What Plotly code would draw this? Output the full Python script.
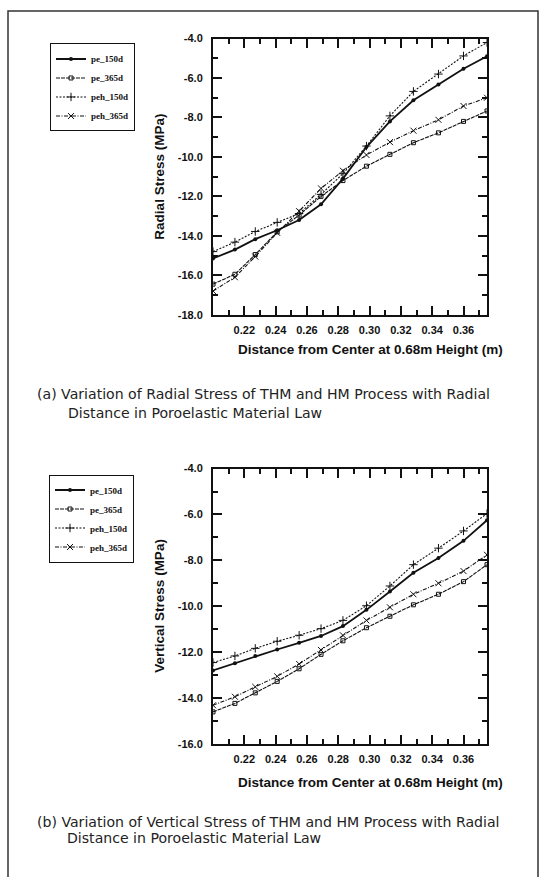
import plotly.graph_objects as go

# ---------------- data ----------------
x_dist = [0.200, 0.214, 0.227, 0.241, 0.255, 0.269, 0.283, 0.298, 0.313, 0.328, 0.344, 0.360, 0.375]

# (a) Radial stress (MPa)
rad_pe_150d = [-15.15, -14.70, -14.17, -13.72, -13.20, -12.40, -11.10, -9.50, -8.20, -7.13, -6.33, -5.53, -4.90]
rad_pe_365d = [-16.45, -15.95, -14.95, -13.80, -12.95, -12.00, -11.20, -10.47, -9.87, -9.28, -8.78, -8.20, -7.67]
rad_peh_150d = [-14.80, -14.32, -13.78, -13.32, -12.87, -11.90, -10.85, -9.45, -7.92, -6.68, -5.80, -4.88, -4.20]
rad_peh_365d = [-16.80, -16.10, -15.05, -13.85, -12.75, -11.60, -10.70, -9.90, -9.25, -8.67, -8.12, -7.42, -7.00]

# (b) Vertical stress (MPa)
ver_pe_150d = [-12.80, -12.49, -12.17, -11.89, -11.60, -11.30, -10.87, -10.16, -9.36, -8.54, -7.90, -7.15, -6.25]
ver_pe_365d = [-14.61, -14.24, -13.78, -13.28, -12.73, -12.10, -11.51, -10.94, -10.44, -9.94, -9.48, -8.93, -8.19]
ver_peh_150d = [-12.46, -12.17, -11.84, -11.53, -11.27, -10.98, -10.62, -9.98, -9.12, -8.19, -7.47, -6.72, -5.96]
ver_peh_365d = [-14.32, -13.95, -13.52, -13.06, -12.52, -11.91, -11.27, -10.62, -10.05, -9.48, -9.00, -8.47, -7.76]

series_names = ["pe_150d", "pe_365d", "peh_150d", "peh_365d"]

x_ticks = [0.22, 0.24, 0.26, 0.28, 0.30, 0.32, 0.34, 0.36]
x_ticktext = ["0.22", "0.24", "0.26", "0.28", "0.30", "0.32", "0.34", "0.36"]
x_minor = [0.21, 0.23, 0.25, 0.27, 0.29, 0.31, 0.33, 0.35, 0.37]

y_ticks_a = [-18, -16, -14, -12, -10, -8, -6, -4]
y_ticktext_a = ["-18.0", "-16.0", "-14.0", "-12.0", "-10.0", "-8.0", "-6.0", "-4.0"]
y_minor_a = [-17, -15, -13, -11, -9, -7, -5]

y_ticks_b = [-16, -14, -12, -10, -8, -6, -4]
y_ticktext_b = ["-16.0", "-14.0", "-12.0", "-10.0", "-8.0", "-6.0", "-4.0"]
y_minor_b = [-15, -13, -11, -9, -7, -5]

caption_a = ("(a) Variation of Radial Stress of THM and HM Process with Radial",
             "Distance in Poroelastic Material Law")
caption_b = ("(b) Variation of Vertical Stress of THM and HM Process with Radial",
             "Distance in Poroelastic Material Law")

# ---------------- styles ----------------
INK = "#111111"
styles = {
    "pe_150d": dict(line=dict(color=INK, width=1.8, dash="solid"),
                    marker=dict(symbol="circle", size=4, color=INK)),
    "pe_365d": dict(line=dict(color=INK, width=1.1, dash="4px,1px"),
                    marker=dict(symbol="square-open", size=4, color=INK, line=dict(width=1, color=INK))),
    "peh_150d": dict(line=dict(color=INK, width=1.1, dash="2px,1.5px"),
                     marker=dict(symbol="cross-thin-open", size=6, color=INK, line=dict(width=1, color=INK))),
    "peh_365d": dict(line=dict(color=INK, width=1.1, dash="4px,1.5px,1px,1.5px"),
                     marker=dict(symbol="x-thin-open", size=6, color=INK, line=dict(width=1, color=INK))),
}

W, H = 542, 877
def px_x(p):
    return p / W
def px_y(p):
    return 1 - p / H

fig = go.Figure()

data_a = [rad_pe_150d, rad_pe_365d, rad_peh_150d, rad_peh_365d]
data_b = [ver_pe_150d, ver_pe_365d, ver_peh_150d, ver_peh_365d]

for name, ys in zip(series_names, data_a):
    fig.add_trace(go.Scatter(x=x_dist, y=ys, mode="lines+markers", name=name,
                             xaxis="x", yaxis="y", legend="legend", **styles[name]))
for name, ys in zip(series_names, data_b):
    fig.add_trace(go.Scatter(x=x_dist, y=ys, mode="lines+markers", name=name,
                             xaxis="x2", yaxis="y2", legend="legend2", **styles[name]))

tickfont = dict(family="Liberation Sans", size=11, color=INK, weight="bold")
common_x = dict(range=[0.200, 0.375], tickmode="array", tickvals=x_ticks, ticktext=x_ticktext,
                ticks="inside", ticklen=9, tickwidth=1.5, tickcolor=INK,
                minor=dict(tickvals=x_minor, ticks="inside", ticklen=5, tickwidth=1.5, tickcolor=INK),
                showline=True, linecolor=INK, linewidth=2, mirror="allticks",
                showgrid=False, zeroline=False, tickfont=tickfont, ticklabelstandoff=4)
common_y = dict(tickmode="array", ticks="inside", ticklen=9, tickwidth=1.5, tickcolor=INK,
                showline=True, linecolor=INK, linewidth=2, mirror="allticks",
                showgrid=False, zeroline=False, tickfont=tickfont, ticklabelstandoff=6)

xd = [px_x(213), px_x(487)]
fig.update_layout(
    width=W, height=H,
    margin=dict(l=0, r=0, t=0, b=0),
    paper_bgcolor="white", plot_bgcolor="white",
    xaxis=dict(domain=xd, anchor="y", **common_x),
    yaxis=dict(domain=[px_y(313), px_y(33)], anchor="x", range=[-18, -4],
               tickvals=y_ticks_a, ticktext=y_ticktext_a,
               minor=dict(tickvals=y_minor_a, ticks="inside", ticklen=5, tickwidth=1.5, tickcolor=INK),
               **common_y),
    xaxis2=dict(domain=xd, anchor="y2", **common_x),
    yaxis2=dict(domain=[px_y(748), px_y(469)], anchor="x2", range=[-16, -4],
                tickvals=y_ticks_b, ticktext=y_ticktext_b,
                minor=dict(tickvals=y_minor_b, ticks="inside", ticklen=5, tickwidth=1.5, tickcolor=INK),
                **common_y),
    legend=dict(x=px_x(50), y=px_y(38), xanchor="left", yanchor="top",
                bordercolor=INK, borderwidth=1, bgcolor="white",
                font=dict(family="Liberation Serif", size=9, color=INK, weight="bold"),
                itemwidth=30, tracegroupgap=0),
    legend2=dict(x=px_x(49), y=px_y(475), xanchor="left", yanchor="top",
                 bordercolor=INK, borderwidth=1, bgcolor="white",
                 font=dict(family="Liberation Serif", size=9, color=INK, weight="bold"),
                 itemwidth=30, tracegroupgap=0),
    showlegend=True,
)

title_font = dict(family="Liberation Sans", size=13.5, color=INK, weight="bold")
cap_font = dict(family="DejaVu Sans", size=14.1, color="#222222")

annotations = [
    dict(text="Radial Stress (MPa)", x=px_x(160), y=px_y(173), textangle=-90, font=title_font),
    dict(text="Distance from Center at 0.68m Height (m)", x=px_x(370), y=px_y(348), font=title_font),
    dict(text="Vertical Stress (MPa)", x=px_x(160), y=px_y(608), textangle=-90, font=title_font),
    dict(text="Distance from Center at 0.68m Height (m)", x=px_x(370), y=px_y(787), font=title_font),
    dict(text=caption_a[0], x=px_x(35), y=px_y(393), xanchor="left", font=cap_font),
    dict(text=caption_a[1], x=px_x(66), y=px_y(413), xanchor="left", font=cap_font),
    dict(text=caption_b[0], x=px_x(35), y=px_y(827), xanchor="left", font=cap_font),
    dict(text=caption_b[1], x=px_x(65), y=px_y(844), xanchor="left", font=cap_font),
]
for a in annotations:
    a.update(xref="paper", yref="paper", showarrow=False)
    a.setdefault("xanchor", "center")
    a.setdefault("yanchor", "middle")
fig.update_layout(annotations=annotations)

# outer frame of the figure
fig.add_shape(type="rect", xref="paper", yref="paper",
              x0=px_x(8), x1=px_x(538), y0=-0.02, y1=px_y(5),
              line=dict(color="#333333", width=1.5), fillcolor="rgba(0,0,0,0)", layer="below")

fig.write_html("out.html")
